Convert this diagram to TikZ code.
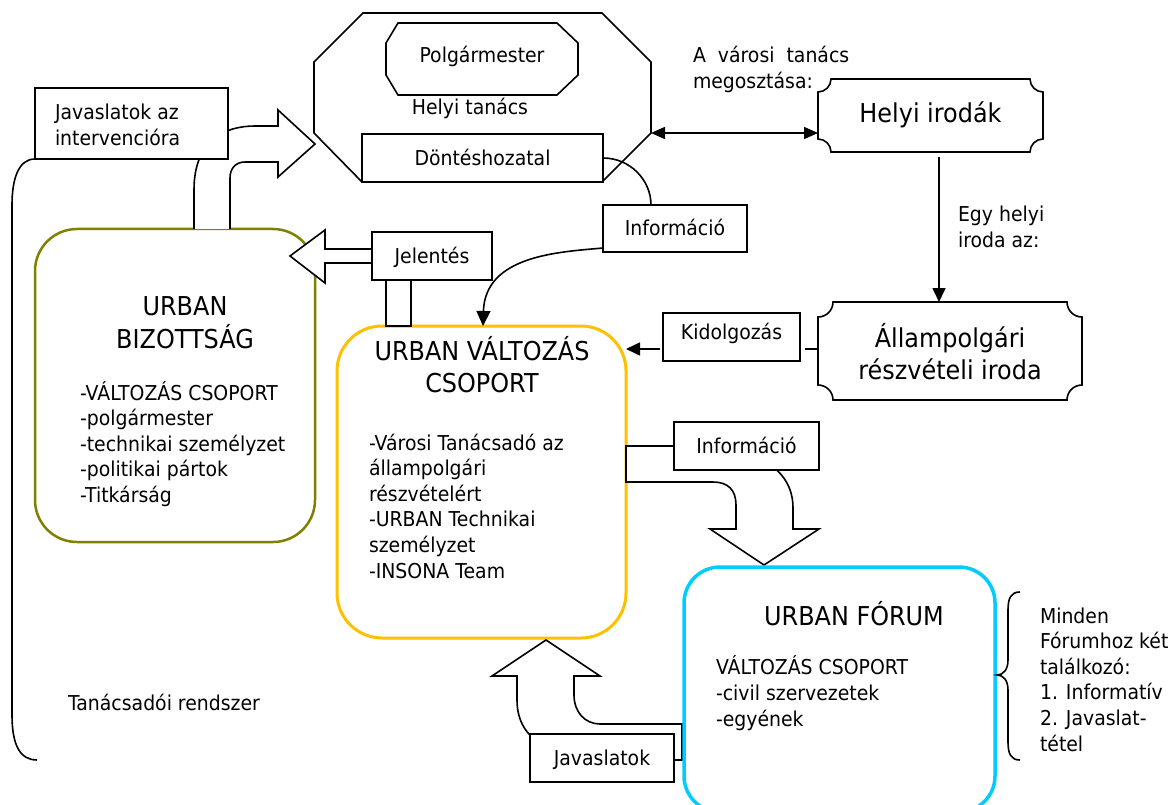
\documentclass[tikz,border=0pt]{standalone}
\usepackage{fontspec}
\setmainfont{DejaVu Sans}[FakeStretch=0.92]
\usetikzlibrary{arrows.meta}
\definecolor{goldc}{RGB}{255,192,0}
\definecolor{skyc}{RGB}{0,204,255}
\definecolor{olivec}{RGB}{128,128,0}
\newcommand{\fnorm}{\fontsize{20.5}{25.6}\selectfont}
\newcommand{\fbig}{\fontsize{26}{32.5}\selectfont}
\newcommand{\drawplaque}[5]{%
  \draw[conn, fill=white] (#1+#5,#2) -- (#3-#5,#2) arc[start angle=180,end angle=90,radius=#5]
    -- (#3,#4-#5) arc[start angle=270,end angle=180,radius=#5]
    -- (#1+#5,#4) arc[start angle=0,end angle=-90,radius=#5]
    -- (#1,#2+#5) arc[start angle=90,end angle=0,radius=#5] -- cycle;}
\begin{document}
\begin{tikzpicture}[x=1pt,y=-1pt,
  every node/.style={inner sep=0pt, outer sep=0pt},
  conn/.style={line width=1.6pt},
  bx/.style={draw, line width=1.6pt, fill=white, rectangle, text height=15pt, text depth=0pt, font=\fnorm},
  txt/.style={font=\fnorm, anchor=base west, align=left},
  ttl/.style={font=\fbig, anchor=base, align=center},
  blk/.style={draw, line width=1.6pt, fill=white, line join=miter},
  arr/.style={-{Triangle[length=14pt,width=13pt]}},
]
\useasboundingbox (0,0) rectangle (1173,805);
\clip (0,0) rectangle (1173,805);

% (multi-line text nodes are placed at the baseline of their last line)

% ---------- URBAN BIZOTTSAG ----------
\node[draw=olivec, line width=2.5pt, rounded corners=42pt, minimum width=280pt, minimum height=313pt] (committee) at (175,385.5) {};
\node[ttl] (committeettl) at (185,348) {URBAN\\BIZOTTSÁG};
\node[txt] (committeelist) at (80,502.4) {-VÁLTOZÁS CSOPORT\\-polgármester\\-technikai személyzet\\-politikai pártok\\-Titkárság};

% block arrow up-right to council
\draw[blk] (194,229) -- (194,190) .. controls (194,140) and (225,126) .. (255,126) -- (278,126) -- (278,110) -- (315,144) -- (278,177) -- (278,162) -- (245,162) .. controls (236,162) and (230,168) .. (230,178) -- (230,229);

% Javaslatok az intervencioara
\node[bx, minimum width=193pt, minimum height=71pt] (proposals) at (131.5,123.5) {};
\node[txt] (proposalstxt) at (55,145.6) {Javaslatok az\\intervencióra};

% left bracket
\coordinate (bracketend) at (37,760);
\draw[conn] (proposals.south west) .. controls (18,159) and (12,180) .. (12,205) -- (12,715) .. controls (12,745) and (20,760) .. (bracketend);
\node[txt] (advisory) at (68,710) {Tanácsadói rendszer};

% ---------- council octagon ----------
\draw[conn, fill=white] (363,13) -- (602,13) -- (651,62) -- (651,133) -- (602,182) -- (362,182) -- (314,133) -- (314,62) -- cycle;
\coordinate (councilE) at (651,133);
\draw[conn, fill=white] (398,23) -- (557,23) -- (578,43) -- (578,75) -- (557,95) -- (398,95) -- (386,75) -- (386,43) -- cycle;
\node[font=\fnorm, anchor=base] (mayor) at (482,63) {Polgármester};
\node[font=\fnorm, anchor=base] (council) at (470,115) {Helyi tanács};
\node[bx, minimum width=241pt, minimum height=48pt] (decision) at (482.5,158) {Döntéshozatal};

% ---------- Informacio (upper) and curves ----------
\node[bx, minimum width=144pt, minimum height=47pt] (info1) at (675,228.5) {Információ};
\draw[conn] (decision.east) .. controls (630,158) and (651,180) .. ([xshift=-24pt]info1.north);

% ---------- URBAN VALTOZAS CSOPORT ----------
\node[draw=goldc, line width=3pt, rounded corners=45pt, minimum width=289pt, minimum height=312pt] (change) at (481.5,482) {};
\node[ttl] (changettl) at (482,392.5) {URBAN VÁLTOZÁS\\CSOPORT};
\node[txt] (changelist) at (369,578) {-Városi Tanácsadó az\\állampolgári\\részvételért\\-URBAN Technikai\\személyzet\\-INSONA Team};

\draw[conn, -{Triangle[length=15pt,width=14pt]}] ([yshift=-19.5pt]info1.west) .. controls (560,252) and (485,255) .. ([xshift=1.5pt]change.north);

% Jelentes block arrow
\draw[blk] (290,256) -- (325,230) -- (325,249) -- (411,249) -- (411,326) -- (386,326) -- (386,263) -- (325,263) -- (325,283) -- cycle;
\node[bx, minimum width=120pt, minimum height=48pt] (report) at (432,256) {Jelentés};

% ---------- Helyi irodak ----------
\drawplaque{818}{79}{1043}{152}{13}
\node[font=\fbig, text height=19pt, text depth=5pt, minimum width=225pt, minimum height=73pt] (offices) at (930.5,115.5) {Helyi irodák};
\draw[conn, {Triangle[length=14pt,width=12pt]}-{Triangle[length=14pt,width=12pt]}] (councilE) -- (offices.west |- councilE);
\node[txt] (sharing) at (693,88.6) {A\hspace{6pt} városi\hspace{6pt} tanács\\megosztása:};

% ---------- Allampolgari reszveteli iroda ----------
\drawplaque{818}{302}{1082}{400}{15}
\node[minimum width=264pt, minimum height=98pt] (citizen) at (950,351) {};
\node[ttl] (citizentxt) at (950,379.5) {Állampolgári\\részvételi iroda};
\coordinate (vx) at (939,0);
\draw[conn, arr, shorten <=5pt] (offices.south -| vx) -- (citizen.north -| vx);
\node[txt] (onelocal) at (958,247.6) {Egy helyi\\iroda az:};

% Kidolgozas
\node[bx, text depth=10pt, minimum width=137pt, minimum height=48pt] (elab) at (731.5,337) {Kidolgozás};
\coordinate (ky) at (0,349);
\draw[conn, shorten >=5pt] (citizen.west |- ky) -- (elab.east |- ky);
\draw[conn, arr, shorten <=3pt] (elab.west |- ky) -- (change.east |- ky);

% ---------- lower Informacio block arrow ----------
\draw[blk] (626,446) -- (690,446) .. controls (755,446) and (793,468) .. (793,508) -- (793,529) -- (819,529) -- (764,565) -- (710,529) -- (736,529) -- (736,505) .. controls (736,490) and (728,482) .. (713,482) -- (626,482) -- cycle;
\node[bx, minimum width=145pt, minimum height=48pt] (info2) at (746.5,446) {Információ};

% ---------- URBAN FORUM ----------
\draw[blk] (682,724) -- (600,724) .. controls (585,724) and (574,712) .. (574,695) -- (574,676) -- (600,676) -- (546,640) -- (492,676) -- (517,676) -- (517,700) .. controls (517,745) and (560,760) .. (620,760) -- (682,760) -- cycle;
\node[draw=skyc, line width=3.5pt, rounded corners=36pt, minimum width=311pt, minimum height=245pt] (forum) at (839.5,689.5) {};
\node[font=\fbig, anchor=base] (forumttl) at (854,625) {URBAN FÓRUM};
\node[txt] (forumlist) at (716,726) {VÁLTOZÁS CSOPORT\\-civil szervezetek\\-egyének};
\node[bx, minimum width=144pt, minimum height=48pt] (javas) at (602,758) {Javaslatok};

% right brace
\coordinate (bracetop) at (1020,592);
\coordinate (bracebot) at (1020,760);
\draw[conn] (bracetop) .. controls (1011,592) and (1008,598) .. (1008,610) -- (1008,660) .. controls (1008,670) and (1003,675) .. (997,675) .. controls (1003,675) and (1008,680) .. (1008,690) -- (1008,742) .. controls (1008,754) and (1011,760) .. (bracebot);
\node[txt] (meetings) at (1040,751) {Minden\\Fórumhoz két\\találkozó:\\1. Informatív\\2. Javaslat-\\tétel};
\end{tikzpicture}
\end{document}
